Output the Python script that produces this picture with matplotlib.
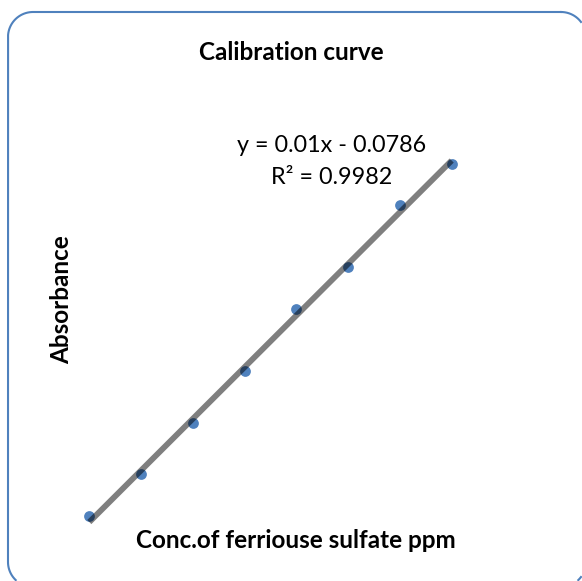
"""Calibration curve: absorbance vs. ferrous sulfate concentration."""

import matplotlib

matplotlib.use("Agg")
import matplotlib.pyplot as plt
import numpy as np


conc_ppm = [10, 20, 30, 40, 50, 60, 70, 80]
absorbance = [0.033, 0.114, 0.213, 0.314, 0.434, 0.515, 0.635, 0.715]

title_text = "Calibration curve"
x_label = "Conc.of ferriouse sulfate ppm"
y_label = "Absorbance"
equation_text = "y = 0.01x - 0.0786"
r2_text = "R² = 0.9982"

FONT = ["Lato", "DejaVu Sans"]
W, H = 582, 581


def rounded_border(left, top, right, bottom, r, n=40):
    """Rounded rectangle outline in pixel coords, NaN where it leaves the canvas."""
    corners = [
        (right - r, top + r, -90, 0),
        (right - r, bottom - r, 0, 90),
        (left + r, bottom - r, 90, 180),
        (left + r, top + r, 180, 270),
    ]
    xs, ys = [], []
    for cx, cy, a0, a1 in corners:
        t = np.radians(np.linspace(a0, a1, n))
        xs.extend(cx + r * np.cos(t))
        ys.extend(cy + r * np.sin(t))
    xs.append(xs[0])
    ys.append(ys[0])
    xs, ys = np.array(xs), np.array(ys)
    outside = (xs > W - 0.5) | (ys > H - 0.5)
    xs[outside] = np.nan
    ys[outside] = np.nan
    return xs, ys


def main() -> None:
    fig = plt.figure(figsize=(W / 100, H / 100), dpi=100)

    # background axes in pixel units, only used for the rounded border
    bg = fig.add_axes([0, 0, 1, 1])
    bg.set_xlim(0, W)
    bg.set_ylim(H, 0)
    bg.axis("off")
    bx, by = rounded_border(8, 12, 586, 587, 25)
    bg.plot(bx, by, color="#4f81bd", linewidth=1.5)

    ax = fig.add_axes([60 / W, 1 - 530 / H, 420 / W, 400 / H])
    ax.set_xlim(4.34, 85.47)
    ax.set_ylim(0.006, 0.781)
    ax.axis("off")

    x = np.array(conc_ppm, dtype=float)
    y = np.array(absorbance)
    slope, intercept = np.polyfit(x, y, 1)
    xs = np.array([x.min(), x.max()])

    ax.scatter(x, y, s=60, color="#4f81bd", zorder=2, linewidths=0)
    ax.plot(xs, slope * xs + intercept, color="black", alpha=0.5,
            linewidth=4.2, solid_capstyle="butt", zorder=3)

    fig.text(0.5, 1 - 52 / H, title_text, ha="center", va="center",
             fontsize=17.5, fontweight="bold", family=FONT)
    fig.text(332 / W, 1 - 146 / H, equation_text, ha="center", va="center",
             fontsize=16.8, family=FONT)
    fig.text(332 / W, 1 - 178 / H, r2_text, ha="center", va="center",
             fontsize=16.8, family=FONT)
    fig.text(62 / W, 1 - 300 / H, y_label, ha="center", va="center",
             rotation=90, fontsize=17.5, fontweight="bold", family=FONT)
    fig.text(296 / W, 1 - 541 / H, x_label, ha="center", va="center",
             fontsize=17.5, fontweight="bold", family=FONT)

    fig.savefig("out.png", dpi=100)
    plt.close(fig)


if __name__ == "__main__":
    main()
